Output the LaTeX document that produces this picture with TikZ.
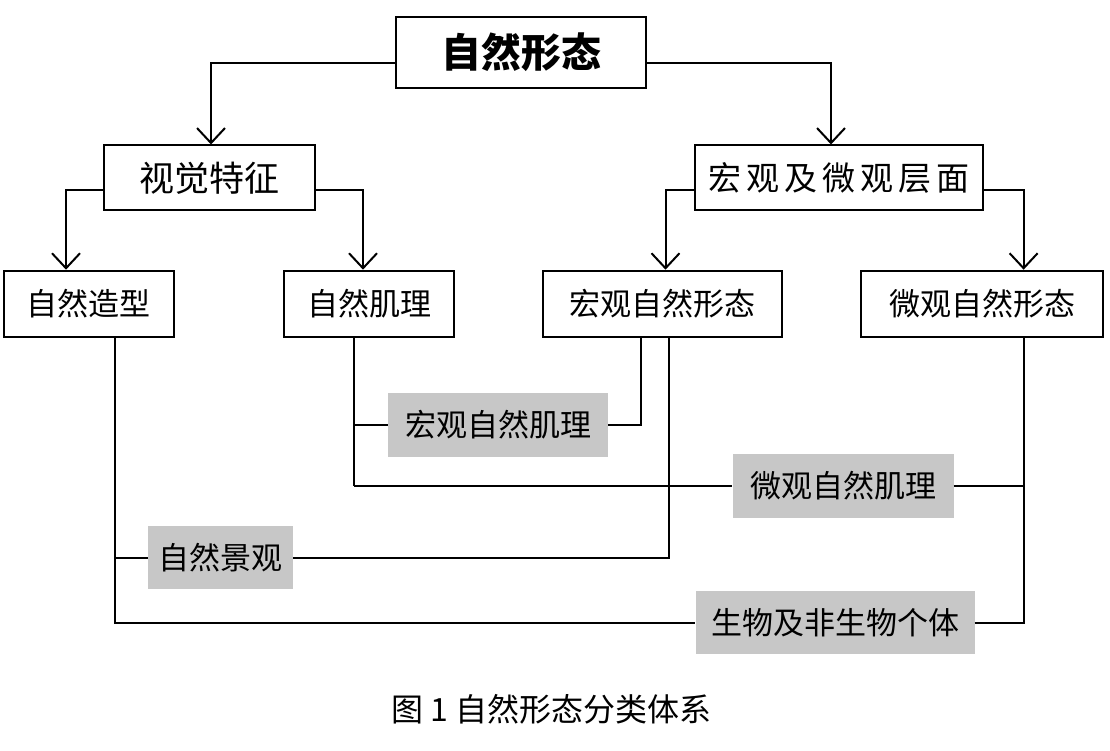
\documentclass[tikz,border=0pt]{standalone}
\usepackage{fontspec}
\setmainfont{Noto Sans CJK SC}
\usetikzlibrary{arrows.meta}
\newcommand{\fsize}[1]{\fontsize{#1}{#1}\selectfont}

\begin{document}
\begin{tikzpicture}[x=1pt, y=-1pt,
	box/.style={draw, line width=2pt, inner sep=0pt, font=\fsize{31}},
	greybox/.style={fill=black!22, inner sep=0pt, font=\fsize{31}},
	link/.style={line width=2pt},
	thinlink/.style={line width=1.3pt},
	arrowlink/.style={line width=2pt, -{Straight Barb[length=15pt, width=28pt]}}]
	%%%%% START %%%%%
	\useasboundingbox (0, 0) rectangle (1110, 751);
	
	\node[box, minimum width=250pt, minimum height=71pt, font=\fsize{40}\bfseries] (nature) at (521, 52.7) {自然形态};
	
	\node[box, minimum width=211pt, minimum height=65pt, font=\fsize{35}] (visual) at (209, 178) {视觉特征};
	\node[box, minimum width=288pt, minimum height=65pt, font=\fsize{33}\addfontfeature{LetterSpace=15}] (scale) at (839, 178) {宏观及微观层面};
	
	\node[box, minimum width=170pt, minimum height=66pt] (shape) at (88.8, 303.7) {自然造型};
	\node[box, minimum width=170pt, minimum height=66pt] (texture) at (369, 303.7) {自然肌理};
	\node[box, minimum width=239pt, minimum height=66pt] (macro) at (662, 303.7) {宏观自然形态};
	\node[box, minimum width=242pt, minimum height=66pt] (micro) at (982, 303.7) {微观自然形态};
	
	\node[greybox, minimum width=220.5pt, minimum height=64pt] (macrotex) at (498, 425) {宏观自然肌理};
	\node[greybox, minimum width=221pt, minimum height=64pt] (microtex) at (843, 486) {微观自然肌理};
	\node[greybox, minimum width=145pt, minimum height=63pt] (scenery) at (220.5, 557.5) {自然景观};
	\node[greybox, minimum width=279pt, minimum height=63pt] (creature) at (835, 622.5) {生物及非生物个体};
	
	\node[font=\fsize{32}] (caption) at (551.5, 709) {图 1 自然形态分类体系};
	
	% arrows down the tree
	\draw[arrowlink] ([yshift=-10.3pt]nature.west) -| ([xshift=2pt]visual.north);
	\draw[arrowlink] ([yshift=-10.3pt]nature.east) -| ([xshift=-8pt]scale.north);
	\draw[arrowlink] ([yshift=-12pt]visual.west) -| ([xshift=-22.8pt]shape.north);
	\draw[arrowlink] ([yshift=-12pt]visual.east) -| ([xshift=-6pt]texture.north);
	\draw[arrowlink] ([yshift=-12pt]scale.west) -| ([xshift=3.5pt]macro.north);
	\draw[arrowlink] ([yshift=-12pt]scale.east) -| ([xshift=41.6pt]micro.north);
	
	% feet of the lower boxes
	\coordinate (shapefoot) at ([xshift=26.2pt]shape.south);
	\coordinate (texfoot) at ([xshift=-15.4pt]texture.south);
	\coordinate (macrofootA) at ([xshift=-21pt]macro.south);
	\coordinate (macrofootB) at ([xshift=7pt]macro.south);
	\coordinate (microfoot) at ([xshift=41.6pt]micro.south);
	\coordinate (texcorner) at (texfoot |- microtex.west);
	
	\draw[link] (shapefoot) |- (creature.west);
	\draw[link] (scenery.west) -- (scenery.west -| shapefoot);
	\draw[link] (scenery.east) -| (macrofootB);
	\draw[link] (creature.east) -| (microfoot);
	
	\draw[link] (texfoot) -- (texcorner);
	\draw[thinlink] (texcorner) -- (microtex.west);
	\draw[link] (macrotex.west) -- (macrotex.west -| texfoot);
	\draw[link] (macrotex.east) -| (macrofootA);
	\draw[thinlink] (microtex.east) -- (microtex.east -| microfoot);
	
	%%%%% END %%%%%
\end{tikzpicture}
\end{document}
